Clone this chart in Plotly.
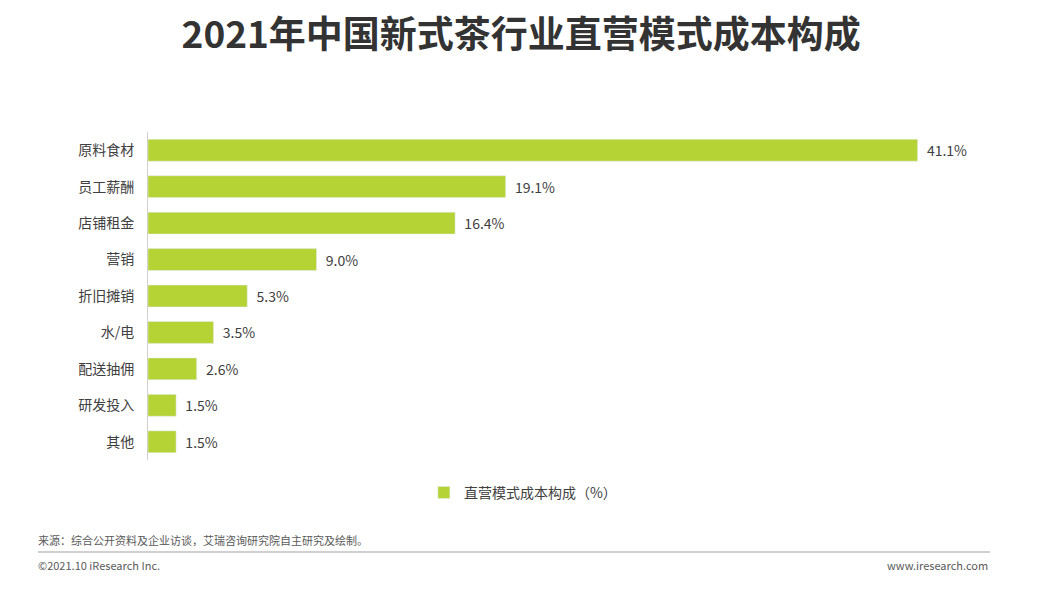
import plotly.graph_objects as go

categories = ["原料食材", "员工薪酬", "店铺租金", "营销", "折旧摊销", "水/电", "配送抽佣", "研发投入", "其他"]
values = [41.1, 19.1, 16.4, 9.0, 5.3, 3.5, 2.6, 1.5, 1.5]
labels = [f"  {v:.1f}%" for v in values]
series_name = "直营模式成本构成（%）"

F = "Noto Sans CJK SC"
fig = go.Figure(go.Bar(
    y=categories, x=values, orientation="h", text=labels, textposition="outside",
    textfont=dict(size=14, color="#404040", family=F), cliponaxis=False,
    marker_color="#b5d334", width=0.6, name=series_name, showlegend=True))
fig.update_layout(
    width=1056, height=610, plot_bgcolor="white", paper_bgcolor="white",
    margin=dict(l=140, r=64, t=124, b=158), font=dict(family=F),
    title=dict(text="<b>2021年中国新式茶行业直营模式成本构成</b>", x=0.486, xanchor="center",
               y=0.955, yanchor="middle", font=dict(size=37, color="#333333", family=F)),
    xaxis=dict(range=[0, 45.5], visible=False),
    yaxis=dict(autorange="reversed", showline=True, linecolor="#d0d0d0", linewidth=1,
               ticks="", ticklabelstandoff=10, tickfont=dict(size=14, color="#404040")),
    legend=dict(orientation="h", x=0.44, xanchor="center", y=-0.1, yanchor="middle",
                font=dict(size=14, color="#404040"), itemwidth=30),
    bargap=0.4,
)
fig.add_annotation(text="来源：综合公开资料及企业访谈，艾瑞咨询研究院自主研究及绘制。", xref="paper", yref="paper",
                   x=-112/852, xanchor="left", y=-(540-460)/328, yanchor="middle", showarrow=False,
                   font=dict(size=11, color="#595959"))
fig.add_annotation(text="©2021.10 iResearch Inc.", xref="paper", yref="paper",
                   x=-112/852, xanchor="left", y=-(565-460)/328, yanchor="middle", showarrow=False,
                   font=dict(size=11, color="#595959"))
fig.add_annotation(text="www.iresearch.com", xref="paper", yref="paper",
                   x=(990-148)/852, xanchor="right", y=-(565-460)/328, yanchor="middle", showarrow=False,
                   font=dict(size=11, color="#595959"))
fig.add_shape(type="line", xref="paper", yref="paper", x0=-110/852, x1=(990-148)/852,
              y0=-(552-460)/328, y1=-(552-460)/328, line=dict(color="#a0a0a0", width=1))
fig.write_html("out.html")
